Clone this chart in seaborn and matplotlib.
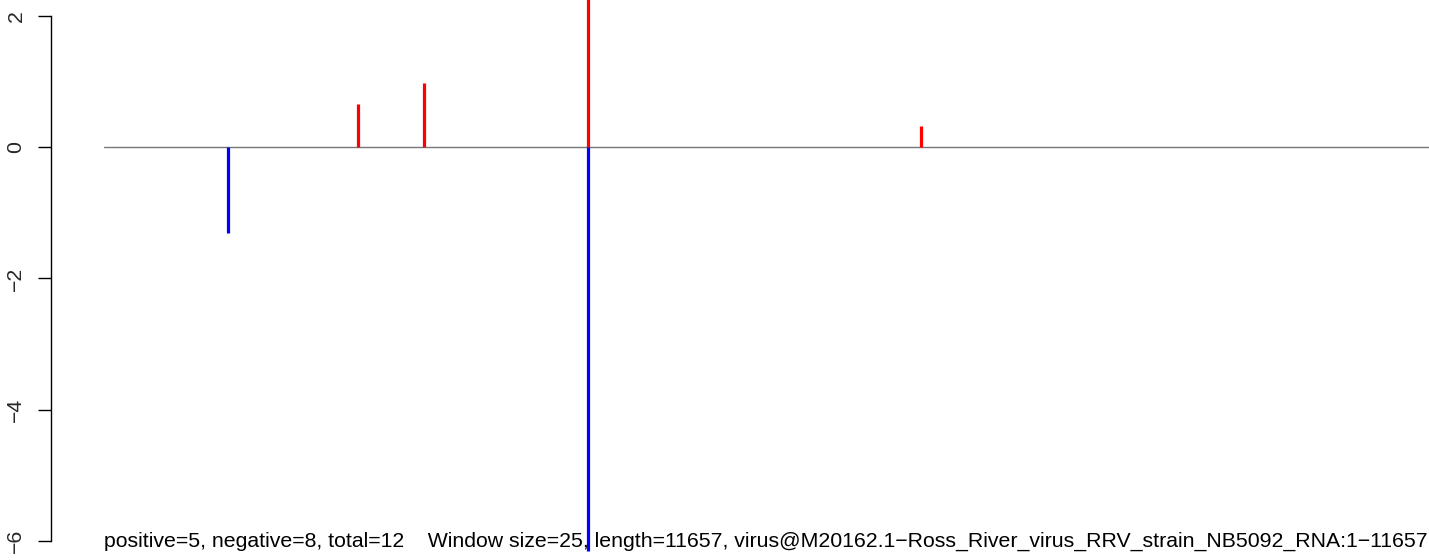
import numpy as np
import matplotlib
matplotlib.use("Agg")
import matplotlib.pyplot as plt
import seaborn as sns

# window positions (nt) and scores
pos_x = [2235, 2815, 4258, 7188]
pos_y = [0.66, 0.98, 2.35, 0.32]
neg_x = [1091, 4258]
neg_y = [-1.31, -6.15]
seq_len = 11657
y_ticks = [-6, -4, -2, 0, 2]
caption = ("positive=5, negative=8, total=12    Window size=25, length=11657, "
           "virus@M20162.1\u2212Ross_River_virus_RRV_strain_NB5092_RNA:1\u221211657")

sns.set_theme(style="white")
plt.rcParams['font.family'] = ['Liberation Sans', 'DejaVu Sans']

W, H = 1429, 560
fig = plt.figure(figsize=(W / 100, H / 100), dpi=100)
# R-style plot region: left edge at the y axis, right edge runs past the picture
ax = fig.add_axes([51 / W, 0, 1431 / W, 1])
ax.set_xlim(-0.04 * seq_len, 1.04 * seq_len)
ax.set_ylim(-6.29, 2.244)

ax.plot([0, seq_len], [0, 0], color="#777777", lw=1.0, zorder=1)
ax.vlines(pos_x, 0, pos_y, colors="#ff0000", lw=2.3, zorder=2)
ax.vlines(neg_x, 0, neg_y, colors="#0000ff", lw=2.3, zorder=2)

ax.text(0, -6, caption, ha="left", va="center", fontsize=15.3, color="black")

sns.despine(ax=ax, top=True, right=True, bottom=True, left=False)
ax.spines['left'].set_bounds(-6, 2)
ax.spines['left'].set_color("black")
ax.spines['left'].set_linewidth(1.0)
ax.set_xticks([])
ax.set_yticks(y_ticks)
ax.set_yticklabels([str(t).replace("-", "\u2212") for t in y_ticks],
                   rotation=90, va="center", fontsize=15.3)
ax.tick_params(axis="y", left=True, length=9.4, width=1.0, color="black", pad=9)
ax.set_facecolor("white")

fig.savefig("out.png", dpi=100)
